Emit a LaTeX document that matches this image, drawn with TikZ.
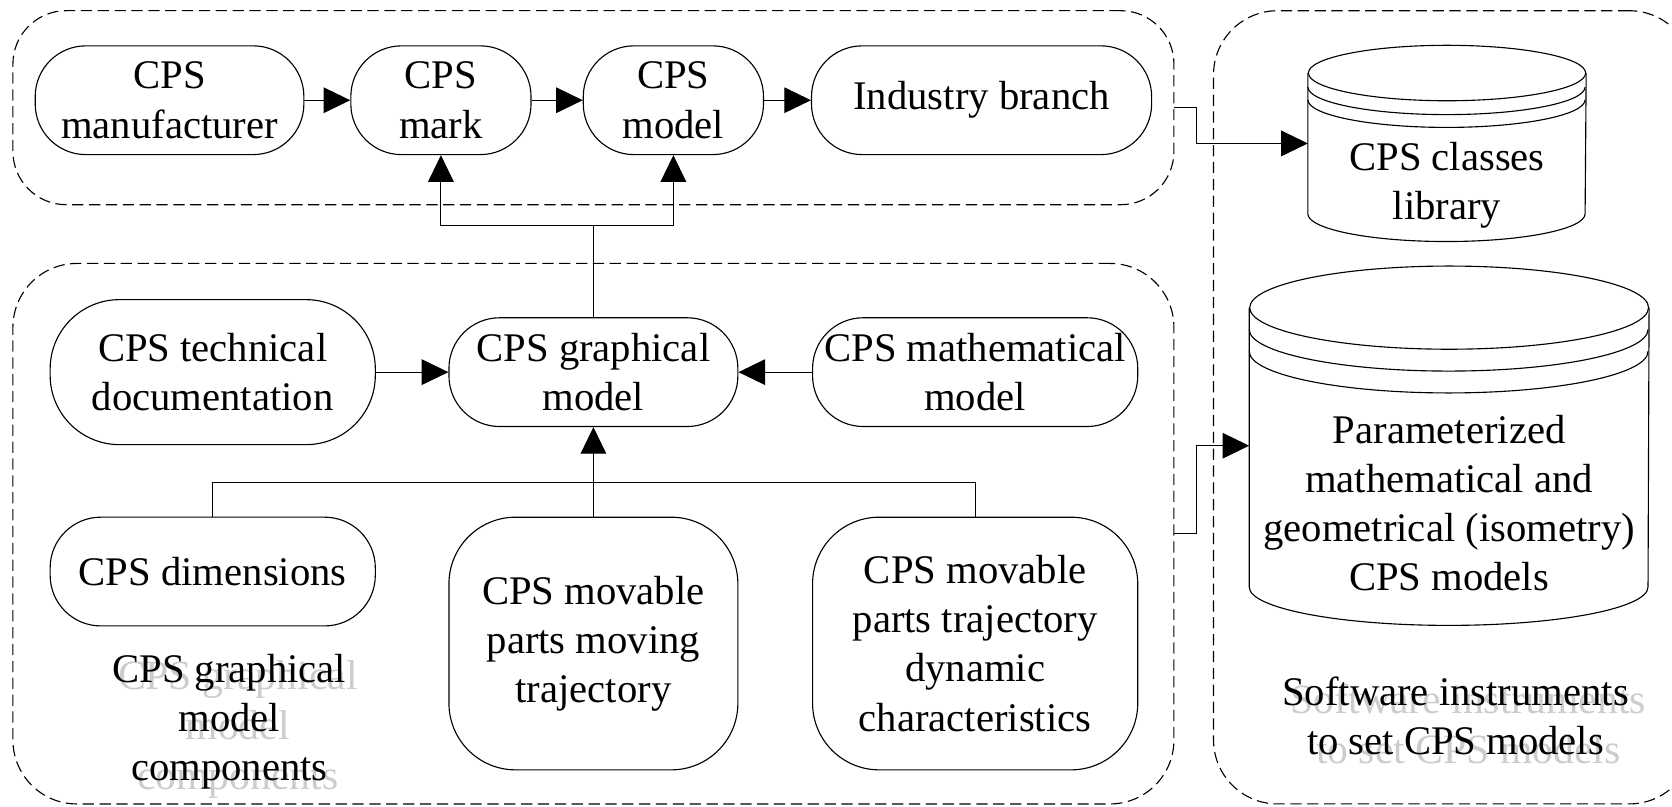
\documentclass[tikz,border=0pt]{standalone}
\usepackage{fontspec}
\setmainfont{Liberation Serif}
\usetikzlibrary{arrows.meta}

\tikzset{
  block/.style={draw, rounded corners=0.95cm, align=center, inner sep=0pt, minimum height=2.04cm},
  tallblock/.style={block, rounded corners=1.25cm},
  group/.style={draw, dash pattern=on 6pt off 3pt, rounded corners=1.2cm, inner sep=0pt},
  drum/.style={inner sep=0pt},
  note/.style={align=center, inner sep=0pt},
  ghost/.style={note, text=black!20, scale=1.025},
  link/.style={-{Triangle[length=0.5cm,width=0.48cm]}},
}

\begin{document}
\begin{tikzpicture}[x=0.02cm, y=0.02cm, line width=0.6pt,
  font=\fontsize{21.7}{26.2}\selectfont]
\useasboundingbox (0,0) rectangle (1568,-756);

% dashed groups
\node[group, rounded corners=1cm, minimum width=21.78cm, minimum height=3.64cm] (topgrp) at (556.5,-101) {};
\node[group, minimum width=21.78cm, minimum height=10.14cm] (botgrp) at (556.5,-500.5) {};
\node[group, minimum width=9cm, minimum height=14.88cm] (swgrp) at (1363,-382) {};

% top row
\node[block, minimum width=5.04cm] (maker) at (159,-94) {CPS\\manufacturer};
\node[block, minimum width=3.38cm] (mark) at (413.5,-94) {CPS\\mark};
\node[block, minimum width=3.38cm] (model) at (631.5,-94) {CPS\\model};
\node[block, minimum width=6.38cm] (branch) at (920.5,-94) {Industry branch};

% graphical model and its sources
\node[block, minimum width=5.42cm] (graph) at (556.5,-349) {CPS graphical\\model};
\node[block, rounded corners=1.3cm, minimum width=6.1cm, minimum height=2.72cm] (techdoc) at (199.5,-349) {CPS technical\\documentation};
\node[block, minimum width=6.1cm] (mathmodel) at (914.5,-349) {CPS mathematical\\model};
\node[block, minimum width=6.1cm] (dims) at (199.5,-536) {CPS dimensions};
\node[tallblock, minimum width=5.42cm, minimum height=4.74cm] (traj) at (556.5,-603.5) {CPS movable\\parts moving\\trajectory};
\node[tallblock, minimum width=6.1cm, minimum height=4.74cm] (dyn) at (914.5,-603.5) {CPS movable\\parts trajectory\\dynamic\\characteristics};

% group captions
\node[ghost] at (223,-684) {CPS graphical\\model\\components};
\node[note] (gmcap) at (215,-677) {CPS graphical\\model\\components};
\node[ghost] at (1377,-679) {Software instruments\\to set CPS models};
\node[note] (swcap) at (1365,-671) {Software instruments\\to set CPS models};

% drums
\node[drum, minimum width=5.2cm, minimum height=3.66cm] (lib) at (1357,-134.5) {};
\draw ([shift={(0,-26)}]lib.north west) -- ([shift={(0,26)}]lib.south west)
  arc[start angle=180, end angle=360, x radius=130, y radius=26] -- ([shift={(0,-26)}]lib.north east);
\draw ([shift={(0,-26)}]lib.north) ellipse[x radius=130, y radius=26];
\foreach \d in {39,51}
  \draw ([shift={(0,-\d)}]lib.north west) arc[start angle=180, end angle=360, x radius=130, y radius=26];
\node[note] at ([shift={(0,-39)}]lib.center) {CPS classes\\library};

\node[drum, minimum width=7.48cm, minimum height=6.72cm] (params) at (1359,-418) {};
\draw ([shift={(0,-39)}]params.north west) -- ([shift={(0,36)}]params.south west)
  arc[start angle=180, end angle=360, x radius=187, y radius=36] -- ([shift={(0,-39)}]params.north east);
\draw ([shift={(0,-39)}]params.north) ellipse[x radius=187, y radius=39];
\foreach \d in {59.5,80}
  \draw ([shift={(0,-\d)}]params.north west) arc[start angle=180, end angle=360, x radius=187, y radius=39];
\node[note] at ([shift={(0,-54)}]params.center) {Parameterized\\mathematical and\\geometrical (isometry)\\CPS models};

% connectors
\draw[link] (maker) -- (mark);
\draw[link] (mark) -- (model);
\draw[link] (model) -- (branch);
\draw (graph.north) -- ++(0,86) coordinate (split);
\draw[link] (split) -| (mark.south);
\draw[link] (split) -| (model.south);
\draw[link] (techdoc) -- (graph);
\draw[link] (mathmodel) -- (graph);
\draw (dims.north) -- ++(0,32) -| (dyn.north);
\draw[link] (traj) -- (graph);
\draw[link] (topgrp.east) -- ++(21,0) |- (lib.west);
\draw[link] (botgrp.east) -- ++(21,0) |- (params.west);
\end{tikzpicture}
\end{document}
